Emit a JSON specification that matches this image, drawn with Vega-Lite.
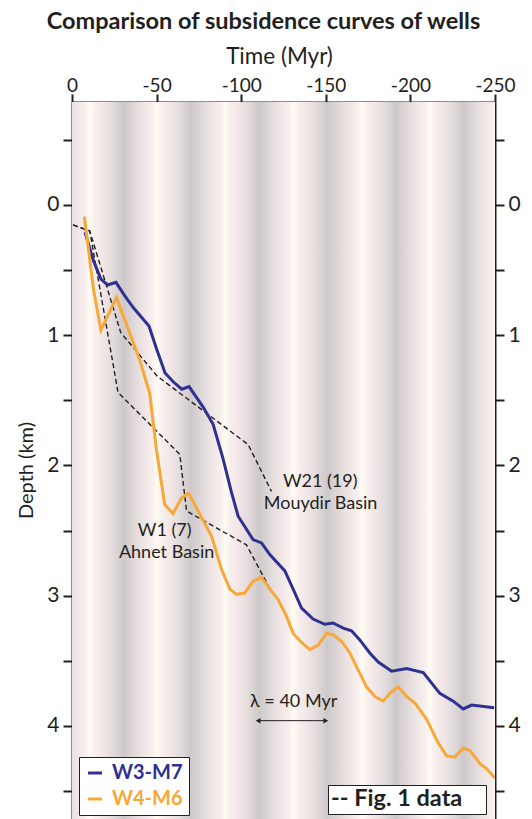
{
  "$schema": "https://vega.github.io/schema/vega-lite/v6.json",
  "width": 423,
  "height": 717,
  "autosize": {"type": "none"},
  "padding": {"left": 72, "top": 102, "right": 37, "bottom": 0},
  "background": "white",
  "config": {
    "font": "Lato",
    "view": {"stroke": null},
    "axis": {"grid": false, "domainColor": "#231f20", "domainWidth": 2, "tickColor": "#231f20", "tickWidth": 2, "labelColor": "#231f20", "titleColor": "#231f20", "labelFont": "Lato", "titleFont": "Lato", "titleFontWeight": "normal"}
  },
  "title": {"text": "Comparison of subsidence curves of wells", "fontSize": 23.5, "fontWeight": "bold", "font": "Lato", "color": "#231f20", "anchor": "middle", "frame": "group", "dx": -20, "offset": 12},
  "datasets": {
    "curves": [
      {"s": "W3-M7", "t": -7.7, "d": 0.21}, {"s": "W3-M7", "t": -12.7, "d": 0.43}, {"s": "W3-M7", "t": -17.1, "d": 0.57}, {"s": "W3-M7", "t": -21.1, "d": 0.615}, {"s": "W3-M7", "t": -26.0, "d": 0.595}, {"s": "W3-M7", "t": -31.3, "d": 0.70}, {"s": "W3-M7", "t": -36.3, "d": 0.79}, {"s": "W3-M7", "t": -45.5, "d": 0.93}, {"s": "W3-M7", "t": -50.1, "d": 1.11}, {"s": "W3-M7", "t": -55.0, "d": 1.29}, {"s": "W3-M7", "t": -60.0, "d": 1.36}, {"s": "W3-M7", "t": -64.9, "d": 1.415}, {"s": "W3-M7", "t": -69.2, "d": 1.395}, {"s": "W3-M7", "t": -77.7, "d": 1.556}, {"s": "W3-M7", "t": -83.4, "d": 1.685}, {"s": "W3-M7", "t": -89.3, "d": 1.95}, {"s": "W3-M7", "t": -94.3, "d": 2.21}, {"s": "W3-M7", "t": -98.2, "d": 2.39}, {"s": "W3-M7", "t": -107.0, "d": 2.57}, {"s": "W3-M7", "t": -112.0, "d": 2.595}, {"s": "W3-M7", "t": -116.9, "d": 2.685}, {"s": "W3-M7", "t": -125.8, "d": 2.81}, {"s": "W3-M7", "t": -130.7, "d": 2.95}, {"s": "W3-M7", "t": -135.7, "d": 3.095}, {"s": "W3-M7", "t": -142.5, "d": 3.18}, {"s": "W3-M7", "t": -149.4, "d": 3.22}, {"s": "W3-M7", "t": -154.3, "d": 3.21}, {"s": "W3-M7", "t": -160.3, "d": 3.25}, {"s": "W3-M7", "t": -165.2, "d": 3.27}, {"s": "W3-M7", "t": -170.1, "d": 3.34}, {"s": "W3-M7", "t": -176.0, "d": 3.44}, {"s": "W3-M7", "t": -181.0, "d": 3.51}, {"s": "W3-M7", "t": -188.9, "d": 3.58}, {"s": "W3-M7", "t": -197.8, "d": 3.56}, {"s": "W3-M7", "t": -207.6, "d": 3.59}, {"s": "W3-M7", "t": -217.4, "d": 3.75}, {"s": "W3-M7", "t": -225.3, "d": 3.81}, {"s": "W3-M7", "t": -231.2, "d": 3.87}, {"s": "W3-M7", "t": -236.2, "d": 3.84}, {"s": "W3-M7", "t": -249.5, "d": 3.86},
      {"s": "W4-M6", "t": -7.3, "d": 0.09}, {"s": "W4-M6", "t": -12.7, "d": 0.65}, {"s": "W4-M6", "t": -17.1, "d": 0.96}, {"s": "W4-M6", "t": -26.3, "d": 0.71}, {"s": "W4-M6", "t": -40.0, "d": 1.19}, {"s": "W4-M6", "t": -45.9, "d": 1.445}, {"s": "W4-M6", "t": -49.9, "d": 1.88}, {"s": "W4-M6", "t": -52.0, "d": 2.06}, {"s": "W4-M6", "t": -54.8, "d": 2.30}, {"s": "W4-M6", "t": -59.7, "d": 2.37}, {"s": "W4-M6", "t": -64.7, "d": 2.25}, {"s": "W4-M6", "t": -69.0, "d": 2.215}, {"s": "W4-M6", "t": -74.5, "d": 2.35}, {"s": "W4-M6", "t": -82.4, "d": 2.54}, {"s": "W4-M6", "t": -88.4, "d": 2.80}, {"s": "W4-M6", "t": -93.3, "d": 2.95}, {"s": "W4-M6", "t": -97.2, "d": 2.99}, {"s": "W4-M6", "t": -102.1, "d": 2.98}, {"s": "W4-M6", "t": -107.0, "d": 2.89}, {"s": "W4-M6", "t": -112.0, "d": 2.86}, {"s": "W4-M6", "t": -116.9, "d": 2.95}, {"s": "W4-M6", "t": -121.8, "d": 3.03}, {"s": "W4-M6", "t": -126.8, "d": 3.16}, {"s": "W4-M6", "t": -130.7, "d": 3.29}, {"s": "W4-M6", "t": -135.7, "d": 3.36}, {"s": "W4-M6", "t": -140.6, "d": 3.415}, {"s": "W4-M6", "t": -145.5, "d": 3.38}, {"s": "W4-M6", "t": -150.4, "d": 3.29}, {"s": "W4-M6", "t": -154.3, "d": 3.30}, {"s": "W4-M6", "t": -159.3, "d": 3.35}, {"s": "W4-M6", "t": -164.2, "d": 3.44}, {"s": "W4-M6", "t": -169.1, "d": 3.57}, {"s": "W4-M6", "t": -174.1, "d": 3.70}, {"s": "W4-M6", "t": -179.0, "d": 3.775}, {"s": "W4-M6", "t": -183.9, "d": 3.81}, {"s": "W4-M6", "t": -187.9, "d": 3.75}, {"s": "W4-M6", "t": -192.8, "d": 3.70}, {"s": "W4-M6", "t": -197.8, "d": 3.775}, {"s": "W4-M6", "t": -202.7, "d": 3.825}, {"s": "W4-M6", "t": -209.6, "d": 3.95}, {"s": "W4-M6", "t": -216.4, "d": 4.13}, {"s": "W4-M6", "t": -221.4, "d": 4.23}, {"s": "W4-M6", "t": -226.3, "d": 4.24}, {"s": "W4-M6", "t": -231.2, "d": 4.17}, {"s": "W4-M6", "t": -235.2, "d": 4.19}, {"s": "W4-M6", "t": -241.1, "d": 4.29}, {"s": "W4-M6", "t": -245.1, "d": 4.33}, {"s": "W4-M6", "t": -250.0, "d": 4.40}
    ],
    "fig1": [
      {"src": "Fig. 1 data", "well": "W21 (19)", "t": -0.6, "d": 0.154}, {"src": "Fig. 1 data", "well": "W21 (19)", "t": -10.5, "d": 0.20}, {"src": "Fig. 1 data", "well": "W21 (19)", "t": -28.8, "d": 0.98}, {"src": "Fig. 1 data", "well": "W21 (19)", "t": -50.4, "d": 1.315}, {"src": "Fig. 1 data", "well": "W21 (19)", "t": -104.1, "d": 1.84}, {"src": "Fig. 1 data", "well": "W21 (19)", "t": -117.9, "d": 2.20},
      {"src": "Fig. 1 data", "well": "W1 (7)", "t": -0.6, "d": 0.154}, {"src": "Fig. 1 data", "well": "W1 (7)", "t": -10.5, "d": 0.20}, {"src": "Fig. 1 data", "well": "W1 (7)", "t": -27.2, "d": 1.44}, {"src": "Fig. 1 data", "well": "W1 (7)", "t": -63.7, "d": 1.915}, {"src": "Fig. 1 data", "well": "W1 (7)", "t": -67.7, "d": 2.35}, {"src": "Fig. 1 data", "well": "W1 (7)", "t": -103.1, "d": 2.61}, {"src": "Fig. 1 data", "well": "W1 (7)", "t": -117.9, "d": 2.97}
    ],
    "notes": [
      {"label": "W21 (19)", "t": -146.7, "d": 2.125},
      {"label": "Mouydir Basin", "t": -146.9, "d": 2.30},
      {"label": "W1 (7)", "t": -54.8, "d": 2.50},
      {"label": "Ahnet Basin", "t": -55.9, "d": 2.674},
      {"label": "λ = 40 Myr", "t": -131, "d": 3.816}
    ],
    "arrow": [{"t0": -110, "t1": -150, "d": 3.96}]
  },
  "layer": [
    {
      "data": {"values": [{}]},
      "mark": {"type": "rect", "clip": true, "fill": {"gradient": "linear", "x1": 0, "y1": 0, "x2": 1, "y2": 0, "stops": [
        {"offset": 0, "color": "#e9e0e1"}, {"offset": 0.01, "color": "#efe5e5"}, {"offset": 0.03, "color": "#f6eeed"},
        {"offset": 0.042, "color": "#fffcf2"}, {"offset": 0.054, "color": "#f7efed"}, {"offset": 0.074, "color": "#f2e6e6"}, {"offset": 0.098, "color": "#e1dadb"}, {"offset": 0.122, "color": "#cdc8c9"}, {"offset": 0.146, "color": "#dfd8d9"}, {"offset": 0.17, "color": "#efe5e5"}, {"offset": 0.1888, "color": "#f6eeed"},
        {"offset": 0.2008, "color": "#fffcf2"}, {"offset": 0.2128, "color": "#f7efed"}, {"offset": 0.2328, "color": "#f2e6e6"}, {"offset": 0.2568, "color": "#e1dadb"}, {"offset": 0.2812, "color": "#cdc8c9"}, {"offset": 0.3056, "color": "#dfd8d9"}, {"offset": 0.33, "color": "#efe5e5"}, {"offset": 0.35, "color": "#f6eeed"},
        {"offset": 0.362, "color": "#fffcf2"}, {"offset": 0.374, "color": "#f7efed"}, {"offset": 0.394, "color": "#f2e6e6"}, {"offset": 0.418, "color": "#e1dadb"}, {"offset": 0.4424, "color": "#cdc8c9"}, {"offset": 0.4668, "color": "#dfd8d9"}, {"offset": 0.4912, "color": "#efe5e5"}, {"offset": 0.5112, "color": "#f6eeed"},
        {"offset": 0.5232, "color": "#fffcf2"}, {"offset": 0.5352, "color": "#f7efed"}, {"offset": 0.5552, "color": "#f2e6e6"}, {"offset": 0.5792, "color": "#e1dadb"}, {"offset": 0.6044, "color": "#cdc8c9"}, {"offset": 0.6296, "color": "#dfd8d9"}, {"offset": 0.654, "color": "#efe5e5"}, {"offset": 0.674, "color": "#f6eeed"},
        {"offset": 0.686, "color": "#fffcf2"}, {"offset": 0.698, "color": "#f7efed"}, {"offset": 0.718, "color": "#f2e6e6"}, {"offset": 0.742, "color": "#e1dadb"}, {"offset": 0.766, "color": "#cdc8c9"}, {"offset": 0.79, "color": "#dfd8d9"}, {"offset": 0.814, "color": "#efe5e5"}, {"offset": 0.834, "color": "#f6eeed"},
        {"offset": 0.846, "color": "#fffcf2"}, {"offset": 0.858, "color": "#f7efed"}, {"offset": 0.878, "color": "#f2e6e6"}, {"offset": 0.902, "color": "#e1dadb"}, {"offset": 0.926, "color": "#cdc8c9"}, {"offset": 0.95, "color": "#dfd8d9"}, {"offset": 0.974, "color": "#efe5e5"}, {"offset": 0.994, "color": "#f6eeed"},
        {"offset": 1, "color": "#faf5f0"}
      ]}},
      "encoding": {
        "x": {"datum": 0, "type": "quantitative", "title": "Time (Myr)", "scale": {"domain": [-250, 0], "reverse": true, "nice": false, "zero": false},
          "axis": {"orient": "top", "values": [0, -50, -100, -150, -200, -250], "labelExpr": "replace(datum.label, '−', '-')", "labelFontSize": 19, "tickSize": 8, "labelPadding": -1, "titleFontSize": 22.5, "titlePadding": 8, "titleX": 207, "labelFlush": false, "labelOverlap": false}},
        "x2": {"datum": -250},
        "y": {"datum": -0.79, "type": "quantitative", "scale": {"domain": [-0.79, 4.715], "reverse": true, "nice": false, "zero": false}, "axis": null},
        "y2": {"datum": 4.715}
      }
    },
    {
      "data": {"name": "fig1"},
      "mark": {"type": "line", "color": "#231f20", "strokeWidth": 1.4, "clip": true},
      "encoding": {
        "x": {"field": "t", "type": "quantitative", "title": "Time (Myr)", "scale": {"domain": [-250, 0], "reverse": true, "nice": false, "zero": false}},
        "y": {"field": "d", "type": "quantitative", "scale": {"domain": [-0.79, 4.715], "reverse": true, "nice": false, "zero": false},
          "axis": {"orient": "right", "title": null, "values": [-0.5, 0, 0.5, 1, 1.5, 2, 2.5, 3, 3.5, 4, 4.5], "labelExpr": "datum.value % 1 == 0 ? format(datum.value, 'd') : ''", "labelFontSize": 21, "tickSize": 9, "labelPadding": 4, "labelOverlap": false}},
        "detail": {"field": "well"},
        "strokeDash": {"field": "src", "type": "nominal", "scale": {"domain": ["Fig. 1 data"], "range": [[5, 3]]},
          "legend": {"orient": "none", "legendX": 256, "legendY": 683, "title": "\u00a0", "titleOrient": "right", "titleFontSize": 4, "titlePadding": 21, "fillColor": "white", "strokeColor": "#231f20", "padding": 2.5, "symbolOpacity": 0, "symbolSize": 1, "labelOffset": -23, "labelFontSize": 23.5, "labelFontWeight": "bold", "labelFont": "Lato", "labelColor": "#231f20", "labelExpr": "'-- ' + datum.label"}}
      }
    },
    {
      "data": {"name": "curves"},
      "mark": {"type": "line", "strokeWidth": 3, "clip": true},
      "encoding": {
        "x": {"field": "t", "type": "quantitative", "title": "Time (Myr)", "scale": {"domain": [-250, 0], "reverse": true, "nice": false, "zero": false}},
        "y": {"field": "d", "type": "quantitative", "title": "Depth (km)", "scale": {"domain": [-0.79, 4.715], "reverse": true, "nice": false, "zero": false},
          "axis": {"orient": "left", "values": [-0.5, 0, 0.5, 1, 1.5, 2, 2.5, 3, 3.5, 4, 4.5], "labelExpr": "datum.value % 1 == 0 ? format(datum.value, 'd') : ''", "labelFontSize": 21, "tickSize": 9, "labelPadding": 4, "titleFontSize": 20, "titlePadding": 10, "titleY": 368, "labelOverlap": false}},
        "color": {"field": "s", "type": "nominal", "scale": {"domain": ["W3-M7", "W4-M6"], "range": ["#2e3192", "#f7a839"]},
          "legend": {"orient": "none", "legendX": 7, "legendY": 655, "title": null, "fillColor": "white", "strokeColor": "#231f20", "padding": 6, "symbolType": "stroke", "symbolStrokeWidth": 3, "symbolSize": 196, "labelOffset": 7, "rowPadding": 6, "labelFontSize": 20, "labelFontWeight": "bold", "labelFont": "Lato", "labelColor": {"expr": "datum.value == 'W3-M7' ? '#2e3192' : '#f7a839'"}}}
      }
    },
    {
      "data": {"name": "notes"},
      "mark": {"type": "text", "fontSize": 18, "font": "Lato", "color": "#231f20", "align": "center", "baseline": "middle"},
      "encoding": {
        "x": {"field": "t", "type": "quantitative", "title": "Time (Myr)", "scale": {"domain": [-250, 0], "reverse": true, "nice": false, "zero": false}},
        "y": {"field": "d", "type": "quantitative", "scale": {"domain": [-0.79, 4.715], "reverse": true, "nice": false, "zero": false}, "axis": null},
        "text": {"field": "label"}
      }
    },
    {
      "data": {"name": "arrow"},
      "mark": {"type": "rule", "color": "#231f20", "strokeWidth": 1},
      "encoding": {
        "x": {"field": "t0", "type": "quantitative", "title": "Time (Myr)", "scale": {"domain": [-250, 0], "reverse": true, "nice": false, "zero": false}},
        "x2": {"field": "t1"},
        "y": {"field": "d", "type": "quantitative", "scale": {"domain": [-0.79, 4.715], "reverse": true, "nice": false, "zero": false}, "axis": null}
      }
    },
    {
      "data": {"name": "arrow"},
      "mark": {"type": "point", "shape": "triangle-left", "filled": true, "color": "#231f20", "size": 30, "opacity": 1},
      "encoding": {
        "x": {"field": "t0", "type": "quantitative", "title": "Time (Myr)", "scale": {"domain": [-250, 0], "reverse": true, "nice": false, "zero": false}},
        "y": {"field": "d", "type": "quantitative", "scale": {"domain": [-0.79, 4.715], "reverse": true, "nice": false, "zero": false}, "axis": null}
      }
    },
    {
      "data": {"name": "arrow"},
      "mark": {"type": "point", "shape": "triangle-right", "filled": true, "color": "#231f20", "size": 30, "opacity": 1},
      "encoding": {
        "x": {"field": "t1", "type": "quantitative", "title": "Time (Myr)", "scale": {"domain": [-250, 0], "reverse": true, "nice": false, "zero": false}},
        "y": {"field": "d", "type": "quantitative", "scale": {"domain": [-0.79, 4.715], "reverse": true, "nice": false, "zero": false}, "axis": null}
      }
    }
  ],
  "resolve": {"axis": {"y": "independent"}}
}
